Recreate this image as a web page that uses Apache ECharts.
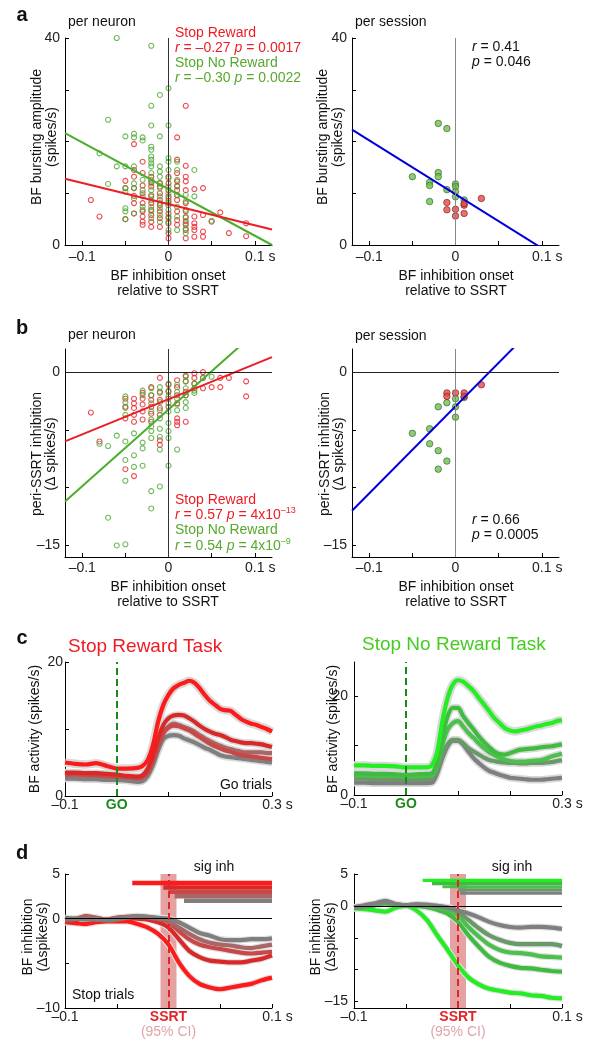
<!DOCTYPE html>
<html><head><meta charset="utf-8">
<script src="https://cdn.jsdelivr.net/npm/echarts@6/dist/echarts.min.js"></script>
<style>html,body{margin:0;padding:0;background:#fff}#c{width:598px;height:1049px}</style>
</head><body><div id="c"></div>
<script>
// ---------------- DATA ----------------
// Panel a: per neuron [onset (s), bursting amplitude]
const aNeuronRed = [[-0.09,8.7],[-0.08,5.5],[-0.05,12.4],[-0.05,11.0],[-0.05,5.0],[-0.04,19.5],[-0.04,14.5],[-0.04,13.2],[-0.04,11.0],[-0.04,9.5],[-0.04,8.1],[-0.04,6.1],[-0.03,16.1],[-0.03,13.9],[-0.03,11.5],[-0.03,10.0],[-0.03,8.1],[-0.03,6.5],[-0.03,5.5],[-0.03,4.5],[-0.03,3.9],[-0.02,13.2],[-0.02,12.2],[-0.02,11.3],[-0.02,9.4],[-0.02,8.1],[-0.02,6.8],[-0.02,5.8],[-0.02,4.5],[-0.02,3.5],[-0.01,12.0],[-0.01,11.3],[-0.01,10.0],[-0.01,8.7],[-0.01,7.7],[-0.01,6.5],[-0.01,5.2],[-0.01,3.5],[0,13.2],[0,11.9],[0,10.6],[0,9.4],[0,8.5],[0,7.7],[0,6.1],[0,5.2],[0,4.2],[0,2.3],[0,1.3],[0.01,20.8],[0.01,16.5],[0.01,13.9],[0.01,12.3],[0.01,11.4],[0.01,10.6],[0.01,9.6],[0.01,8.7],[0.01,6.5],[0.01,4.8],[0.01,3.9],[0.02,26.9],[0.02,15.3],[0.02,13.2],[0.02,12.3],[0.02,10.6],[0.02,8.1],[0.02,6.5],[0.02,5.3],[0.02,4.6],[0.02,3.9],[0.02,2.9],[0.02,1.3],[0.03,10.8],[0.03,5.5],[0.03,4.2],[0.03,3.5],[0.03,2.9],[0.03,1.6],[0.04,11.0],[0.04,5.8],[0.04,2.6],[0.04,1.6],[0.05,4.5],[0.06,6.3],[0.07,2.3],[0.09,4.2],[0.09,1.7]];
const aNeuronGreen = [[-0.08,17.7],[-0.07,24.2],[-0.07,11.8],[-0.06,40],[-0.06,15.2],[-0.05,21.0],[-0.05,15.2],[-0.05,11.0],[-0.05,10.3],[-0.05,7.1],[-0.05,6.5],[-0.05,5.0],[-0.04,21.5],[-0.04,20.8],[-0.04,15.2],[-0.04,11.9],[-0.04,11.0],[-0.04,9.0],[-0.04,6.1],[-0.03,20.8],[-0.03,20.2],[-0.03,12.6],[-0.03,10.6],[-0.03,9.4],[-0.03,7.4],[-0.03,6.8],[-0.02,38.5],[-0.02,26.9],[-0.02,23.1],[-0.02,19.0],[-0.02,18.4],[-0.02,17.1],[-0.02,16.5],[-0.02,15.8],[-0.02,15.2],[-0.02,13.9],[-0.02,12.6],[-0.02,11.9],[-0.02,10.6],[-0.02,9.7],[-0.02,8.7],[-0.02,7.4],[-0.02,6.5],[-0.02,5.2],[-0.01,29.0],[-0.01,21.0],[-0.01,15.2],[-0.01,14.2],[-0.01,13.2],[-0.01,11.9],[-0.01,11.0],[-0.01,9.4],[-0.01,8.1],[-0.01,7.1],[-0.01,5.8],[-0.01,4.5],[0,30.3],[0,23.1],[0,16.8],[0,16.1],[0,14.5],[0,12.9],[0,11.3],[0,10.0],[0,9.0],[0,8.1],[0,6.8],[0,5.5],[0,4.5],[0,2.9],[0.01,16.1],[0.01,14.5],[0.01,12.6],[0.01,11.3],[0.01,9.7],[0.01,7.4],[0.01,5.5],[0.01,2.9],[0.02,9.7],[0.02,8.4],[0.02,6.8],[0.02,5.5],[0.02,4.2],[0.02,3.2],[0.02,2.3],[0.03,14.5],[0.03,9.4],[0.05,4.7]];
const aSessionGreen = [[-0.02,23.5],[-0.01,22.5],[-0.05,13.2],[-0.03,12.1],[-0.03,11.5],[-0.02,14.0],[-0.02,13.2],[-0.03,8.4],[-0.01,10.7],[0,11.8],[0,11.3],[0,10.3],[0,9.3],[0.01,8.7]];
const aSessionRed = [[-0.01,8.2],[-0.01,6.8],[0,6.9],[0,5.6],[0.01,7.7],[0.01,8.0],[0.01,6.1],[0.03,9.0]];
// Panel b: per neuron [onset (s), peri-SSRT inhibition]
const bNeuronRed = [[-0.09,-3.5],[-0.08,-6.0],[-0.05,-2.3],[-0.05,-3.0],[-0.05,-4.0],[-0.05,-8.4],[-0.04,-2.3],[-0.04,-2.7],[-0.04,-3.1],[-0.04,-3.7],[-0.04,-4.3],[-0.04,-9.0],[-0.03,-1.8],[-0.03,-2.3],[-0.03,-2.8],[-0.03,-3.4],[-0.03,-4.1],[-0.02,-1.3],[-0.02,-2.0],[-0.02,-2.4],[-0.02,-3.0],[-0.02,-3.6],[-0.02,-4.3],[-0.01,-0.5],[-0.01,-1.7],[-0.01,-2.4],[-0.01,-3.1],[-0.01,-3.7],[-0.01,-5.9],[-0.01,-6.3],[0,-1.1],[0,-1.7],[0,-2.3],[0,-3.0],[0.01,-0.7],[0.01,-1.3],[0.01,-2.0],[0.01,-2.7],[0.01,-4.0],[0.01,-4.3],[0.01,-4.6],[0.02,-0.3],[0.02,-0.8],[0.02,-1.7],[0.02,-2.0],[0.02,-4.3],[0.03,-0.1],[0.03,-0.5],[0.03,-1.0],[0.03,-1.4],[0.04,0],[0.04,-0.5],[0.04,-1.4],[0.05,-1.3],[0.06,-0.5],[0.06,-1.3],[0.07,-0.5],[0.09,-0.8],[0.09,-2.1]];
const bNeuronGreen = [[-0.08,-6.2],[-0.07,-6.4],[-0.07,-12.6],[-0.06,-5.5],[-0.06,-15],[-0.05,-2.1],[-0.05,-2.6],[-0.05,-3.1],[-0.05,-3.7],[-0.05,-6.0],[-0.05,-7.6],[-0.05,-9.4],[-0.05,-14.9],[-0.04,-5.3],[-0.04,-7.2],[-0.04,-8.2],[-0.03,-1.6],[-0.03,-2.0],[-0.03,-6.1],[-0.03,-6.6],[-0.03,-8.1],[-0.02,-1.4],[-0.02,-2.0],[-0.02,-2.7],[-0.02,-3.4],[-0.02,-4.1],[-0.02,-4.7],[-0.02,-5.1],[-0.02,-5.7],[-0.02,-10.3],[-0.02,-11.8],[-0.01,-1.3],[-0.01,-1.8],[-0.01,-2.6],[-0.01,-3.3],[-0.01,-4.0],[-0.01,-4.9],[-0.01,-5.6],[-0.01,-6.7],[-0.01,-9.9],[0,-1.0],[0,-1.6],[0,-2.1],[0,-2.7],[0,-3.4],[0,-4.4],[0,-5.1],[0,-5.7],[0,-8.1],[0.01,-1.1],[0.01,-1.7],[0.01,-2.3],[0.01,-2.8],[0.01,-3.3],[0.01,-6.7],[0.02,-0.4],[0.02,-0.8],[0.02,-1.4],[0.02,-2.0],[0.02,-2.6],[0.02,-3.1],[0.03,-1.0],[0.03,-1.6],[0.03,-1.8],[0.04,-0.5],[0.05,-0.4]];
const bSessionRed = [[-0.01,-1.8],[-0.01,-2.1],[0,-1.8],[0.01,-1.8],[0.01,-2.1],[0.03,-1.1]];
const bSessionGreen = [[-0.01,-2.65],[0,-2.3],[0,-3.0],[0,-3.9],[0.01,-2.2],[-0.02,-3.0],[-0.03,-4.9],[-0.05,-5.3],[-0.03,-6.2],[-0.02,-6.8],[-0.01,-7.7],[-0.02,-8.4]];
// Regression fits [intercept, slope]
const fitARed = [7.9, -40.8], fitAGreen = [10.8, -90], fitASession = [9.8, -104];
const fitBRed = [-2.35, 30.4], fitBGreen = [-3.24, 66.3], fitBSession = [-2.96, 75.3];
const fitRange = [-0.12, 0.12];
// Panel c: Go trial activity (spikes/s)
const tC = [-0.1,-0.08,-0.06,-0.04,-0.02,0,0.02,0.04,0.05,0.06,0.07,0.08,0.09,0.1,0.11,0.12,0.13,0.14,0.15,0.16,0.17,0.18,0.19,0.2,0.21,0.22,0.23,0.24,0.25,0.26,0.27,0.28,0.29,0.3];
const cRed1 = [5.0,4.8,4.7,4.9,4.5,4.1,4.1,4.2,4.5,5.4,7.6,11.1,13.6,15.1,16.1,16.6,16.9,17.2,16.9,16.1,15.1,14.2,13.6,13.0,12.8,12.7,12.1,11.5,11.1,10.8,10.6,10.3,10.0,9.6];
const cRed2 = [3.5,3.5,3.4,3.4,3.3,3.2,3.0,2.9,3.1,4.1,6.1,8.6,10.6,11.6,12.0,12.1,12.0,11.6,11.1,10.5,10.0,9.6,9.3,9.1,8.8,8.4,8.2,8.0,7.9,7.9,7.8,7.7,7.5,7.3];
const cRed3 = [3.2,3.3,3.2,3.1,3.0,2.9,2.8,2.7,2.8,3.5,5.2,7.4,9.3,10.2,10.5,10.4,10.1,9.8,9.3,8.8,8.3,7.8,7.4,7.1,6.8,6.6,6.3,6.1,6.0,5.9,5.8,5.7,5.6,5.5];
const cRed4 = [3.0,3.1,3.0,3.0,2.9,2.9,2.8,2.6,2.7,3.6,5.4,7.6,9.6,10.4,10.8,10.6,10.3,10.0,9.6,9.1,8.6,8.2,7.8,7.5,7.2,7.0,6.8,6.6,6.5,6.5,6.5,6.5,6.4,6.4];
const cRed5 = [2.6,2.6,2.5,2.5,2.4,2.4,2.3,2.1,2.2,3.0,4.6,6.8,8.5,9.0,9.1,9.0,8.6,8.3,8.0,7.6,7.2,6.9,6.5,6.1,5.9,5.8,5.7,5.6,5.5,5.4,5.3,5.2,5.1,5.0];
const cGreen1 = [6.0,6.0,5.9,5.9,5.8,5.6,5.6,5.6,6.1,8.8,15.0,19.7,22.4,23.3,23.0,22.1,21.1,19.7,18.4,17.0,15.6,14.6,13.6,13.1,12.9,13.1,13.3,13.6,13.9,14.1,14.4,14.6,15.0,15.2];
const cGreen2 = [4.4,4.4,4.3,4.3,4.2,4.1,4.2,4.3,4.4,6.8,11.6,16.0,17.7,17.7,16.0,14.6,13.3,11.9,10.7,9.7,8.8,8.3,8.2,8.5,8.9,9.2,9.3,9.4,9.5,9.7,9.8,9.9,10.1,10.3];
const cGreen3 = [4.0,4.0,3.9,3.9,3.9,3.8,3.8,3.9,4.0,6.1,10.2,13.3,14.6,15.0,13.9,12.6,11.6,10.5,9.5,8.7,8.1,7.5,7.2,6.9,6.8,6.8,6.8,6.9,7.0,7.1,7.4,7.8,8.1,8.4];
const cGreen4 = [3.3,3.3,3.2,3.2,3.2,3.1,3.1,3.2,3.4,5.1,8.2,10.3,11.2,11.2,10.5,9.5,8.8,8.2,7.6,7.1,6.9,6.7,6.6,6.5,6.5,6.4,6.4,6.5,6.5,6.5,6.6,6.7,6.9,7.1];
const cGreen5 = [2.5,2.5,2.4,2.4,2.4,2.4,2.4,2.4,2.5,4.4,7.5,9.9,11.0,11.0,10.2,8.8,7.5,6.5,5.6,4.9,4.5,4.1,3.8,3.5,3.4,3.3,3.2,3.1,3.1,3.1,3.2,3.3,3.4,3.5];
// Panel d: Stop trial inhibition (delta spikes/s)
const tD = [-0.1,-0.09,-0.08,-0.07,-0.06,-0.05,-0.04,-0.03,-0.02,-0.01,0,0.01,0.02,0.03,0.04,0.05,0.06,0.07,0.08,0.09,0.1];
const dRed1 = [-0.4,-0.5,-0.6,-0.4,-0.3,-0.3,-0.3,-0.6,-1.0,-1.7,-2.9,-4.9,-6.4,-7.3,-7.7,-7.9,-7.7,-7.5,-7.3,-6.9,-6.6];
const dRed2 = [-0.3,-0.2,0.2,0.0,-0.2,0.0,0.1,0.0,-0.1,-0.4,-1.0,-2.3,-3.6,-4.3,-4.7,-4.8,-4.9,-4.9,-4.7,-4.5,-4.1];
const dRed3 = [-0.2,-0.1,0.3,0.1,-0.1,0.1,0.2,0.2,0.1,-0.1,-0.4,-1.4,-2.3,-2.9,-3.2,-3.4,-3.6,-3.8,-3.9,-3.8,-3.7];
const dRed4 = [-0.1,0.0,0.2,0.1,-0.1,0.1,0.2,0.3,0.2,0.0,-0.3,-1.0,-1.7,-2.3,-2.7,-2.9,-3.0,-3.2,-3.3,-3.1,-2.9];
const dRed5 = [0.1,0.0,-0.1,-0.1,-0.2,-0.1,0.1,0.3,0.2,0.1,0.0,-0.4,-1.0,-1.6,-1.9,-2.3,-2.4,-2.4,-2.3,-2.3,-2.2];
const dGreen1 = [-0.4,-0.5,-0.7,-0.9,-0.3,0.0,-0.7,-2.2,-4.6,-6.9,-9.3,-11.2,-12.3,-13.0,-13.3,-13.6,-13.7,-14.0,-14.1,-14.4,-14.5];
const dGreen2 = [-0.3,-0.2,0.1,0.4,0.2,0.1,0.0,-0.2,-0.6,-1.2,-2.5,-4.6,-6.4,-8.0,-8.9,-9.4,-9.7,-9.8,-10.0,-10.2,-10.3];
const dGreen3 = [-0.3,-0.2,0.1,0.4,0.2,0.1,0.1,0.0,-0.3,-0.7,-1.5,-3.3,-4.8,-6.1,-6.9,-7.3,-7.4,-7.6,-7.9,-8.0,-8.1];
const dGreen4 = [-0.2,-0.1,0.2,0.5,0.3,0.1,0.1,0.1,0.0,-0.3,-0.9,-2.2,-3.5,-4.6,-5.3,-5.8,-6.0,-6.0,-6.0,-6.0,-6.3];
const dGreen5 = [-0.2,0.1,0.4,0.8,0.3,0.1,0.3,0.2,0.0,-0.2,-0.7,-1.2,-1.8,-2.5,-3.0,-3.3,-3.4,-3.3,-3.3,-3.4,-3.6];
// significant inhibition onsets (s) and bar levels
const sigStartRed = [-0.035,-0.005,0.0,0.006,0.015];
const sigStartGreen = [-0.034,-0.025,-0.015,0.0,0.002];
const sigLevels = [4.0,3.5,3.0,2.5,2.0];
const sigHalf = 0.25;
const ssrtCI = [-0.0077, 0.0077];
// tick labels
const xTicksScatter = [-0.1,-0.05,0,0.05,0.1], xLabelsScatter = [-0.1,0,0.1];

// ---------------- STYLE ----------------
const FF = '"Liberation Sans", Arial, Helvetica, sans-serif';
const RED = '#e8202a', GREEN = '#4da833';
const redShades = ['#ff1a1a','#d92828','#c84848','#aa6666','#7f7f7f'];
const greenShades = ['#22ee22','#3fbb3f','#4cc04c','#679a67','#7f7f7f'];

function fmtNum(v){ return v < 0 ? '\u2013' + (+(-v).toFixed(2)) : '' + (+v.toFixed(2)); }
function xFmt(last){ return v => (Math.abs(v - last) < 1e-9) ? '{p|\u00a0}' + fmtNum(v) + ' s' : fmtNum(v); }

function xAxis(grid, min, max, ticks, labels, last, extraFmt, extraRich, margin){
  return {type:'value', gridIndex:grid, min, max,
    axisLine:{show:true, onZero:false, lineStyle:{color:'#000', width:1}},
    axisTick:{show:true, inside:true, length:4, customValues:ticks, lineStyle:{color:'#000'}},
    axisLabel:{show:true, customValues:labels, margin: margin, fontSize:14, fontFamily:FF, color:'#222',
      formatter: extraFmt || xFmt(last),
      rich: Object.assign({p:{width:11, fontSize:14, fontFamily:FF}}, extraRich||{})},
    splitLine:{show:false}};
}
function yAxis(grid, min, max, ticks, labels, margin){
  return {type:'value', gridIndex:grid, min, max,
    axisLine:{show:true, onZero:false, lineStyle:{color:'#000', width:1}},
    axisTick:{show:true, inside:true, length:4, customValues:ticks, lineStyle:{color:'#000'}},
    axisLabel:{show:true, customValues:labels, margin: margin, fontSize:14, fontFamily:FF, color:'#222', formatter: fmtNum},
    splitLine:{show:false}};
}

const grids = [
  {left:65, top:38, width:207, height:207},
  {left:352, top:38, width:207, height:207},
  {left:65, top:349, width:207, height:208},
  {left:352, top:349, width:207, height:208},
  {left:65, top:662, width:207, height:134},
  {left:354, top:662, width:208, height:133},
  {left:65, top:874, width:207, height:134},
  {left:354, top:874, width:208, height:134}
];

const cRich = {go:{fontWeight:'bold', color:'#1a8a1a', fontSize:14, fontFamily:FF}};
const cFmt = v => v === 0 ? '{go|GO}' : (Math.abs(v-0.3)<1e-9 ? '{p|\u00a0}0.3 s' : fmtNum(v));
const dRich = {ss:{fontWeight:'bold', color:'#e3242b', fontSize:14, fontFamily:FF, lineHeight:15},
               ci:{color:'#e3a3a8', fontSize:14, fontFamily:FF, lineHeight:15}};
const dFmt = v => v === 0 ? '{ss|SSRT}\n{ci|(95% CI)}' : (Math.abs(v-0.1)<1e-9 ? '{p|\u00a0}0.1 s' : fmtNum(v));

const xAxes = [
  xAxis(0,-0.12,0.12,xTicksScatter,xLabelsScatter,0.1,null,null,5),
  xAxis(1,-0.12,0.12,xTicksScatter,xLabelsScatter,0.1,null,null,5),
  xAxis(2,-0.12,0.12,xTicksScatter,xLabelsScatter,0.1,null,null,4),
  xAxis(3,-0.12,0.12,xTicksScatter,xLabelsScatter,0.1,null,null,4),
  xAxis(4,-0.1,0.3,[-0.1,0,0.1,0.2,0.3],[-0.1,0,0.3],0.3,cFmt,cRich,2),
  xAxis(5,-0.1,0.3,[-0.1,0,0.1,0.2,0.3],[-0.1,0,0.3],0.3,cFmt,cRich,2),
  xAxis(6,-0.1,0.1,[-0.1,-0.05,0,0.05,0.1],[-0.1,0,0.1],0.1,dFmt,dRich,2),
  xAxis(7,-0.1,0.1,[-0.1,-0.05,0,0.05,0.1],[-0.1,0,0.1],0.1,dFmt,dRich,2)
];
const yAxes = [
  yAxis(0,0,40,[0,10,20,30,40],[0,40],5),
  yAxis(1,0,40,[0,10,20,30,40],[0,40],5),
  yAxis(2,-16,2,[0,-5,-10,-15],[0,-15],5),
  yAxis(3,-16,2,[0,-5,-10,-15],[0,-15],5),
  yAxis(4,0,20,[0,10,20],[0,20],2),
  yAxis(5,0,27,[0,10,20],[0,20],6),
  yAxis(6,-10,5,[5,0,-5,-10],[5,0,-10],5),
  yAxis(7,-16,5,[5,0,-5,-10,-15],[5,0,-15],6)
];

const series = [];
function scatterHollow(g, data, color, ml){
  const s = {type:'scatter', xAxisIndex:g, yAxisIndex:g, data, symbol:'circle', symbolSize:5,
    itemStyle:{color:'rgba(0,0,0,0)', borderColor:color, borderWidth:1.1}, silent:true, z:3};
  if (ml) s.markLine = ml;
  return s;
}
function scatterFilled(g, data, fill, border, ml){
  const s = {type:'scatter', xAxisIndex:g, yAxisIndex:g, data, symbol:'circle', symbolSize:6.5,
    itemStyle:{color:fill, borderColor:border, borderWidth:0.8}, silent:true, z:3};
  if (ml) s.markLine = ml;
  return s;
}
function fitLine(g, fit, color){
  return {type:'line', xAxisIndex:g, yAxisIndex:g, data: fitRange.map(x => [x, fit[0] + fit[1]*x]),
    symbol:'none', clip:true, lineStyle:{color, width:2}, silent:true, z:4};
}
function zeroLines(vColor, hColor){
  return {silent:true, symbol:'none', label:{show:false},
    data:[{xAxis:0, lineStyle:{color:vColor, width:1, type:'solid'}}, {yAxis:0, lineStyle:{color:hColor, width:1, type:'solid'}}]};
}

// panel a
series.push(scatterHollow(0, aNeuronRed, RED, {silent:true, symbol:'none', label:{show:false}, data:[{xAxis:0}], lineStyle:{color:'#333', width:1, type:'solid'}}));
series.push(scatterHollow(0, aNeuronGreen, GREEN));
series.push(fitLine(0, fitAGreen, '#4cad2c'));
series.push(fitLine(0, fitARed, '#ee1c24'));
series.push(scatterFilled(1, aSessionGreen, '#6fbf50', '#2f5f1f', {silent:true, symbol:'none', label:{show:false}, data:[{xAxis:0}], lineStyle:{color:'#888', width:1, type:'solid'}}));
series.push(scatterFilled(1, aSessionRed, '#e24a4a', '#7a1a1a'));
series.push(fitLine(1, fitASession, '#0000dd'));
// panel b
series.push(scatterHollow(2, bNeuronRed, RED, zeroLines('#333','#222')));
series.push(scatterHollow(2, bNeuronGreen, GREEN));
series.push(fitLine(2, fitBGreen, '#4cad2c'));
series.push(fitLine(2, fitBRed, '#ee1c24'));
series.push(scatterFilled(3, bSessionGreen, '#6fbf50', '#2f5f1f', zeroLines('#888','#222')));
series.push(scatterFilled(3, bSessionRed, '#e24a4a', '#7a1a1a'));
series.push(fitLine(3, fitBSession, '#0000dd'));

// panel c & d time courses
function band(g, t, vals, width, color){
  return {type:'line', xAxisIndex:g, yAxisIndex:g, data:t.map((x,i)=>[x, vals[i]]), symbol:'none', smooth:0.3,
    lineStyle:{color, width}, silent:true, z:2};
}
const cRedSet = [cRed1,cRed2,cRed3,cRed4,cRed5];
const cGreenSet = [cGreen1,cGreen2,cGreen3,cGreen4,cGreen5];
const dRedSet = [dRed1,dRed2,dRed3,dRed4,dRed5];
const dGreenSet = [dGreen1,dGreen2,dGreen3,dGreen4,dGreen5];
const goLine = {silent:true, symbol:'none', label:{show:false}, data:[{xAxis:0}], lineStyle:{color:'#1a8a1a', width:2, type:[7,4]}};

[[4,cRedSet,redShades],[5,cGreenSet,greenShades]].forEach(([g,set,cols])=>{
  set.forEach((v,i) => series.push(band(g, tC, v, i === 0 ? 8.5 : 7.5, '#d9d9d9')));
  for (let i = set.length-1; i >= 0; i--) {
    const s = band(g, tC, set[i], 4.2, cols[i]);
    s.z = 3;
    if (i === 0) { s.markLine = goLine; }
    series.push(s);
  }
});

[[6,dRedSet,redShades,sigStartRed],[7,dGreenSet,greenShades,sigStartGreen]].forEach(([g,set,cols,starts])=>{
  series.push({type:'line', xAxisIndex:g, yAxisIndex:g, data:[], silent:true, z:1,
    markArea:{silent:true, itemStyle:{color:'#e4a2a2'}, data:[[{xAxis:ssrtCI[0]},{xAxis:ssrtCI[1]}]]}});
  series.push({type:'line', xAxisIndex:g, yAxisIndex:g, data:[], silent:true, z:2,
    markLine:{silent:true, symbol:'none', label:{show:false}, data:[{yAxis:0}], lineStyle:{color:'#000', width:1, type:'solid'}}});
  set.forEach(v => series.push(band(g, tD, v, 6.5, '#e0e0e0')));
  set.forEach((v,i) => { const s = band(g, tD, v, 4.2, cols[i]); s.z = 3; series.push(s); });
  series.push({type:'line', xAxisIndex:g, yAxisIndex:g, data:[], silent:true, z:4,
    markArea:{silent:true, data: starts.map((st,i)=>[
      {xAxis:st, yAxis:sigLevels[i]+sigHalf, itemStyle:{color:cols[i]}},
      {xAxis:0.1, yAxis:sigLevels[i]-sigHalf}])}});
  series.push({type:'line', xAxisIndex:g, yAxisIndex:g, data:[], silent:true, z:6,
    markLine:{silent:true, symbol:'none', label:{show:false}, data:[{xAxis:0}], lineStyle:{color:'#e3242b', width:2, type:[7,4]}}});
});

// ---------------- TEXT ----------------
function T(x, y, text, o){
  o = o || {};
  const st = {text, fill:o.color||'#111', fontSize:o.size||14, fontFamily:FF, fontWeight:o.bold?'bold':'normal',
    align:o.align||'left', verticalAlign:'middle'};
  if (o.rich) { st.rich = o.rich; st.lineHeight = 18; }
  return {type:'text', x, y, rotation:o.rot||0, z:100, silent:true, style:st};
}
function richFor(color){
  return {i:{fontStyle:'italic', fontSize:14, fontFamily:FF, fill:color, lineHeight:18},
          s:{fontSize:9, fontFamily:FF, fill:color, verticalAlign:'top', lineHeight:9}};
}
const R90 = Math.PI/2;
const graphics = [
  T(22,15,'a',{bold:true,size:20,align:'center'}),
  T(22,328,'b',{bold:true,size:20,align:'center'}),
  T(22,638,'c',{bold:true,size:20,align:'center'}),
  T(22,853,'d',{bold:true,size:20,align:'center'}),
  T(68,22,'per neuron'), T(355,22,'per session'),
  T(68,335,'per neuron'), T(355,336,'per session'),
  T(175,33,'Stop Reward',{color:'#ee1c24'}),
  T(175,48,'{i|r} = \u20130.27 {i|p} = 0.0017',{color:'#ee1c24', rich:richFor('#ee1c24')}),
  T(175,63,'Stop No Reward',{color:'#59a830'}),
  T(175,78,'{i|r} = \u20130.30 {i|p} = 0.0022',{color:'#59a830', rich:richFor('#59a830')}),
  T(472,47,'{i|r} = 0.41',{rich:richFor('#111')}),
  T(472,62,'{i|p} = 0.046',{rich:richFor('#111')}),
  T(175,500,'Stop Reward',{color:'#ee1c24'}),
  T(175,515,'{i|r} = 0.57 {i|p} = 4x10{s|\u201313}',{color:'#ee1c24', rich:richFor('#ee1c24')}),
  T(175,530,'Stop No Reward',{color:'#59a830'}),
  T(175,546,'{i|r} = 0.54 {i|p} = 4x10{s|\u20139}',{color:'#59a830', rich:richFor('#59a830')}),
  T(472,520,'{i|r} = 0.66',{rich:richFor('#111')}),
  T(472,535,'{i|p} = 0.0005',{rich:richFor('#111')}),
  T(37,137,'BF bursting amplitude',{rot:R90,align:'center'}),
  T(52,137,'(spikes/s)',{rot:R90,align:'center'}),
  T(323,137,'BF bursting amplitude',{rot:R90,align:'center'}),
  T(338,137,'(spikes/s)',{rot:R90,align:'center'}),
  T(37,454,'peri-SSRT inhibition',{rot:R90,align:'center'}),
  T(51,454,'(\u0394 spikes/s)',{rot:R90,align:'center'}),
  T(325,454,'peri-SSRT inhibition',{rot:R90,align:'center'}),
  T(339,454,'(\u0394 spikes/s)',{rot:R90,align:'center'}),
  T(35,729,'BF activity (spikes/s)',{rot:R90,align:'center'}),
  T(333,729,'BF activity (spikes/s)',{rot:R90,align:'center'}),
  T(28,937,'BF inhibition',{rot:R90,align:'center'}),
  T(43,937,'(\u0394spikes/s)',{rot:R90,align:'center'}),
  T(316,937,'BF inhibition',{rot:R90,align:'center'}),
  T(331,937,'(\u0394spikes/s)',{rot:R90,align:'center'}),
  T(168,276,'BF inhibition onset',{align:'center'}), T(168,291,'relative to SSRT',{align:'center'}),
  T(456,276,'BF inhibition onset',{align:'center'}), T(456,291,'relative to SSRT',{align:'center'}),
  T(168,587,'BF inhibition onset',{align:'center'}), T(168,602,'relative to SSRT',{align:'center'}),
  T(456,587,'BF inhibition onset',{align:'center'}), T(456,602,'relative to SSRT',{align:'center'}),
  T(68,647,'Stop Reward Task',{size:19,color:'#ee1c24'}),
  T(362,645,'Stop No Reward Task',{size:19,color:'#44cc22'}),
  T(272,785,'Go trials',{align:'right'}),
  T(214,867,'sig inh',{align:'center'}),
  T(512,867,'sig inh',{align:'center'}),
  T(72,995,'Stop trials')
];

const chart = echarts.init(document.getElementById('c'), null, {renderer:'canvas', width:598, height:1049});
chart.setOption({
  animation:false, backgroundColor:'#fff',
  grid: grids, xAxis: xAxes, yAxis: yAxes, series, graphic: graphics
});
</script></body></html>
